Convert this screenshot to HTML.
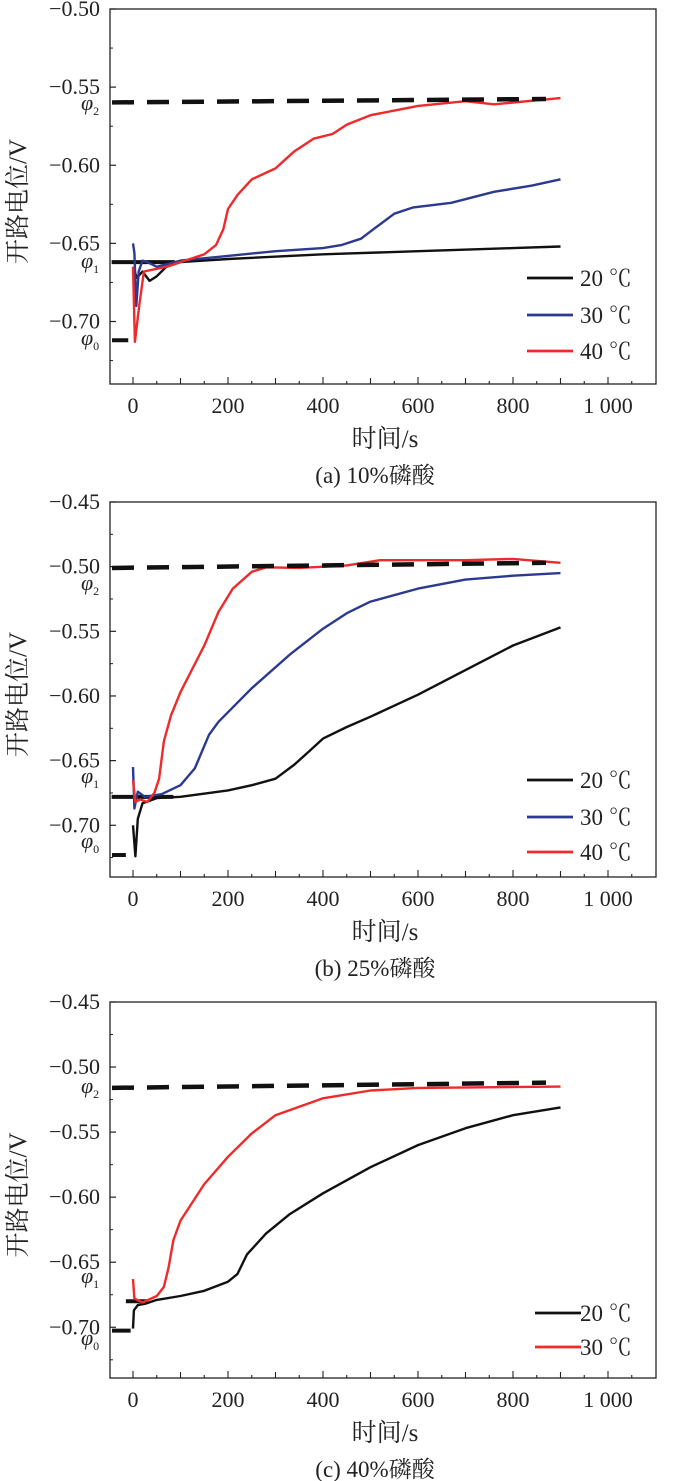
<!DOCTYPE html>
<html><head><meta charset="utf-8">
<style>
html,body{margin:0;padding:0;background:#fff;}
svg{display:block;font-family:"Liberation Serif","Noto Serif CJK SC",serif;}
</style></head>
<body>
<svg id="fig" width="700" height="1481" viewBox="0 0 700 1481" xmlns="http://www.w3.org/2000/svg"></svg>
<script>
// ---------- data ----------
const xTicks = [0, 200, 400, 600, 800, 1000];
const xTickLabels = ["0", "200", "400", "600", "800", "1 000"];
const seriesNames3 = ["20 ℃", "30 ℃", "40 ℃"];
const seriesNames2 = ["20 ℃", "30 ℃"];

// panel (a) 10%
const aYTicks = [-0.50, -0.55, -0.60, -0.65, -0.70];
const aT20 = [0, 8, 20, 35, 50, 70, 100, 200, 400, 600, 800, 900];
const aV20 = [-0.665, -0.672, -0.668, -0.674, -0.671, -0.665, -0.662, -0.660, -0.657, -0.655, -0.653, -0.652];
const aT30 = [0, 3, 7, 12, 20, 30, 50, 100, 200, 300, 400, 440, 480, 510, 550, 590, 670, 760, 840, 900];
const aV30 = [-0.650, -0.656, -0.690, -0.668, -0.661, -0.662, -0.665, -0.661, -0.658, -0.655, -0.653, -0.651, -0.647, -0.640, -0.631, -0.627, -0.624, -0.617, -0.613, -0.609];
const aT40 = [0, 4, 13, 23, 70, 100, 150, 175, 190, 200, 220, 250, 300, 340, 380, 420, 450, 500, 550, 600, 700, 760, 900];
const aV40 = [-0.665, -0.713, -0.690, -0.668, -0.665, -0.662, -0.657, -0.651, -0.641, -0.628, -0.619, -0.609, -0.602, -0.591, -0.583, -0.580, -0.574, -0.568, -0.565, -0.562, -0.559, -0.561, -0.557];
const aPhi = [-0.712, -0.662, -0.5598, -0.5576];

// panel (b) 25%
const bYTicks = [-0.45, -0.50, -0.55, -0.60, -0.65, -0.70];
const bT20 = [0, 5, 10, 20, 50, 100, 200, 250, 300, 340, 370, 400, 450, 500, 600, 700, 800, 900];
const bV20 = [-0.700, -0.724, -0.695, -0.683, -0.679, -0.678, -0.673, -0.669, -0.664, -0.653, -0.643, -0.633, -0.624, -0.616, -0.599, -0.580, -0.561, -0.547];
const bT30 = [0, 3, 10, 25, 60, 100, 130, 160, 180, 250, 330, 400, 450, 500, 600, 700, 800, 900];
const bV30 = [-0.655, -0.687, -0.674, -0.678, -0.676, -0.669, -0.656, -0.630, -0.620, -0.594, -0.568, -0.548, -0.536, -0.527, -0.517, -0.510, -0.507, -0.505];
const bT40 = [0, 5, 15, 30, 45, 55, 65, 80, 100, 150, 180, 210, 250, 280, 350, 450, 520, 700, 800, 900];
const bV40 = [-0.665, -0.682, -0.680, -0.682, -0.675, -0.664, -0.635, -0.615, -0.597, -0.561, -0.535, -0.517, -0.504, -0.5005, -0.501, -0.499, -0.495, -0.495, -0.494, -0.497];
const bPhi = [-0.723, -0.678, -0.501, -0.497];

// panel (c) 40%
const cYTicks = [-0.45, -0.50, -0.55, -0.60, -0.65, -0.70];
const cT20 = [0, 2, 10, 25, 50, 100, 150, 200, 220, 240, 280, 330, 400, 500, 600, 700, 800, 900];
const cV20 = [-0.701, -0.687, -0.683, -0.682, -0.679, -0.676, -0.672, -0.665, -0.659, -0.644, -0.628, -0.613, -0.597, -0.577, -0.560, -0.547, -0.537, -0.531];
const cT30 = [0, 3, 20, 50, 65, 75, 85, 100, 150, 200, 250, 300, 400, 500, 600, 900];
const cV30 = [-0.663, -0.678, -0.681, -0.676, -0.669, -0.654, -0.633, -0.618, -0.590, -0.569, -0.551, -0.537, -0.524, -0.518, -0.516, -0.515];
const cPhi = [-0.7026, -0.680, -0.516, -0.512];

// ---------- drawing ----------
const NS = "http://www.w3.org/2000/svg";
const svg = document.getElementById("fig");
function mk(tag, attrs, parent, text) {
  const e = document.createElementNS(NS, tag);
  for (const k in attrs) e.setAttribute(k, attrs[k]);
  if (text !== undefined) e.textContent = text;
  (parent || svg).appendChild(e);
  return e;
}
const COLORS = ["#111111", "#2b3990", "#ee2a2a"];
const L = 110, R = 656;
function xs(t) { return 133 + t * 0.475; }

function panel(id, top, bottom, vTop, vBottom, yTicks, series, names, phi, phiY, legY, caption) {
  const g = mk("g", {});
  
  
  const ys = v => top + (vTop - v) / (vTop - vBottom) * (bottom - top);

  yTicks.forEach(v => {
    const y = ys(v);
    const tk = mk("line", {x1: L, x2: L + 6, y1: y, y2: y, stroke: "#222", "stroke-width": 1.2}, g);
    
    
    const lb = mk("text", {x: 100, y: y + 7, "font-size": 22, "text-anchor": "end", fill: "#222"}, g, "−" + Math.abs(v).toFixed(2));
    
    
    const ym = ys(v - 0.025);
    if (ym < bottom - 2) {
      const mt = mk("line", {x1: L, x2: L + 3, y1: ym, y2: ym, stroke: "#222", "stroke-width": 1}, g);
      
      
    }
  });
  for (let t = 0; t <= 1050; t += 50) {
    const major = t % 200 === 0, mid = t % 100 === 0;
    const len = major ? 7 : (mid ? 6 : 3);
    const tk = mk("line", {x1: xs(t), x2: xs(t), y1: bottom, y2: bottom - len, stroke: "#222", "stroke-width": 1.1}, g);
    
    
  }
  xTicks.forEach((t, i) => {
    const lb = mk("text", {x: xs(t), y: bottom + 29, "font-size": 22, "text-anchor": "middle", fill: "#222"}, g, xTickLabels[i]);
    
    
  });
  const fr = mk("rect", {x: L, y: top, width: R - L, height: bottom - top, fill: "none", stroke: "#222", "stroke-width": 1.3}, g);
  
  

  const d0 = mk("line", {x1: 112, x2: xs(phi.t0), y1: ys(phi.v[0]), y2: ys(phi.v[0]), stroke: "#111", "stroke-width": 4}, g);
  
  
  const d1 = mk("line", {x1: xs(phi.t1a), x2: xs(phi.t1b), y1: ys(phi.v[1]), y2: ys(phi.v[1]), stroke: "#111", "stroke-width": 4}, g);
  
  

  series.forEach((s, i) => {
    const pts = s.t.map((t, k) => xs(t).toFixed(1) + "," + ys(s.v[k]).toFixed(1)).join(" ");
    const pl = mk("polyline", {points: pts, fill: "none", stroke: COLORS[s.c], "stroke-width": 2.4, "stroke-linejoin": "round"}, g);
    
    
  });
  const d2 = mk("line", {x1: 112, x2: 546, y1: ys(phi.v[2]), y2: ys(phi.v[3]), stroke: "#111", "stroke-width": 4.5, "stroke-dasharray": "22 13"}, g);
  
  

  phiY.forEach((y, i) => {
    const tx = mk("text", {x: 81, y: y, "font-size": 22, "font-style": "italic", fill: "#222"}, g);
    
    
    tx.textContent = "φ";
    mk("tspan", {"font-size": 12, "font-style": "normal", dy: 5}, tx, String([2, 1, 0][i]));
  });

  names.forEach((n, i) => {
    const y = legY[i];
    const ln = mk("line", {x1: phi.legX, x2: phi.legX + 46, y1: y, y2: y, stroke: COLORS[series[i].c], "stroke-width": 2.8}, g);
    
    
    const tx = mk("text", {x: 580, y: y + 8, "font-size": 23, fill: "#222"}, g, n);
    
    
  });

  const yt = mk("text", {x: 0, y: 0, "font-size": 25, "text-anchor": "middle", fill: "#222",
    transform: "translate(26," + ((top + bottom) / 2 + 5) + ") rotate(-90)"}, g, "开路电位/V");
  
  
  const xt = mk("text", {x: 385, y: bottom + 63, "font-size": 25, "text-anchor": "middle", fill: "#222"}, g, "时间/s");
  
  
  const cp = mk("text", {x: 375, y: bottom + 99, "font-size": 23, "text-anchor": "middle", fill: "#222"}, g, caption);
  
  
}

panel("a", 9, 384, -0.50, -0.74, aYTicks,
  [{t: aT20, v: aV20, c: 0}, {t: aT30, v: aV30, c: 1}, {t: aT40, v: aV40, c: 2}],
  seriesNames3, {v: aPhi, t0: -10, t1a: -45, t1b: 88, legX: 527}, [110, 268, 345], [278, 315, 351], "(a) 10%磷酸");

panel("b", 502, 877, -0.45, -0.74, bYTicks,
  [{t: bT20, v: bV20, c: 0}, {t: bT30, v: bV30, c: 1}, {t: bT40, v: bV40, c: 2}],
  seriesNames3, {v: bPhi, t0: -15, t1a: -45, t1b: 85, legX: 527}, [590, 783, 848], [780, 817, 852], "(b) 25%磷酸");

panel("c", 1002, 1378, -0.45, -0.739, cYTicks,
  [{t: cT20, v: cV20, c: 0}, {t: cT30, v: cV30, c: 2}],
  seriesNames2, {v: cPhi, t0: -5, t1a: -15, t1b: 30, legX: 535}, [1093, 1283, 1345], [1313, 1347], "(c) 40%磷酸");
</script>
</body></html>
